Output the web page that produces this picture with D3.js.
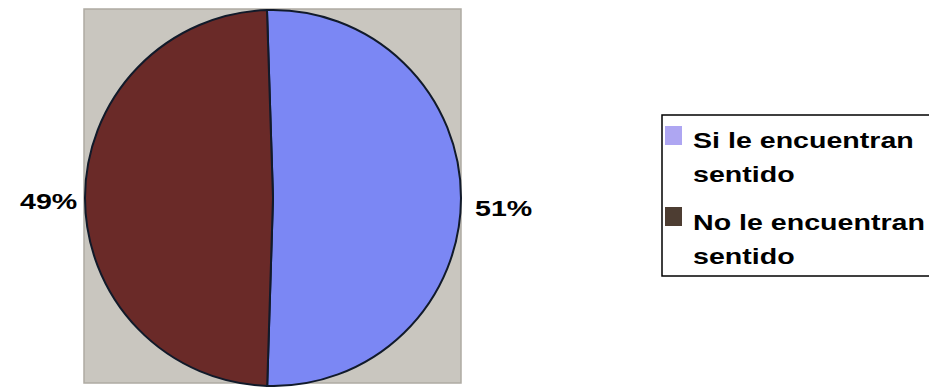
<!DOCTYPE html>
<html>
<head>
<meta charset="utf-8">
<script src="https://cdn.jsdelivr.net/npm/d3@7"></script>
<style>
  body { margin: 0; background: #ffffff; }
  svg { display: block; }
  text { font-family: "Liberation Sans", Arial, sans-serif; font-weight: bold; fill: #000; }
</style>
</head>
<body>
<script>
let x = 929;
let y = 387;
let svg = d3.select("body").append("svg").attr("width", x).attr("height", y);

// data
let categories = ["Si le encuentran sentido", "No le encuentran sentido"];
let values = [51, 49];
let sliceColors = ["#7b87f4", "#6a2a28"];
let swatchColors = ["#aea6f2", "#4d3d32"];
let legendLines = [["Si le encuentran", "sentido"], ["No le encuentran", "sentido"]];

let cx = 273;
let cy = 198;
let r = 188;

// gray plot area
svg.append("rect")
  .attr("x", 84)
  .attr("y", 9)
  .attr("width", 377)
  .attr("height", 374)
  .attr("fill", "#c9c6bf")
  .attr("stroke", "#aeaba3")
  .attr("stroke-width", 1.5);

let pie = d3.pie().sort(null).value(d => d)
  .startAngle(-0.032)
  .endAngle(2 * Math.PI - 0.032);
let arc = d3.arc().innerRadius(0).outerRadius(r);
let arcs = pie(values);

let g = svg.append("g").attr("transform", "translate(" + cx + "," + cy + ")");
g.selectAll("path").data(arcs).enter().append("path")
  .attr("d", arc)
  .attr("fill", (d, i) => sliceColors[i])
  .attr("stroke", "#111a2a")
  .attr("stroke-width", 2);

// percentage labels
let labelPos = [[475, 216], [20, 209]];
arcs.forEach((d, i) =>
{
  svg.append("text")
    .attr("transform", "translate(" + labelPos[i][0] + "," + labelPos[i][1] + ") scale(1.3,1)")
    .attr("font-size", 22)
    .text(Math.round(d.data) + "%");
});

// legend
let legend = svg.append("g").attr("id", "legend");
legend.append("rect")
  .attr("x", 662)
  .attr("y", 115)
  .attr("width", 300)
  .attr("height", 161)
  .attr("fill", "none")
  .attr("stroke", "#000")
  .attr("stroke-width", 1.5);

let itemTop = [148, 230];
let swatchY = [126, 207];
categories.forEach((c, i) =>
{
  legend.append("rect")
    .attr("x", 665)
    .attr("y", swatchY[i])
    .attr("width", 17)
    .attr("height", 19)
    .attr("fill", swatchColors[i]);
  legendLines[i].forEach((t, j) =>
  {
    legend.append("text")
      .attr("transform", "translate(693," + (itemTop[i] + j * 34) + ") scale(1.3,1)")
      .attr("font-size", 22)
      .text(t);
  });
});
</script>
</body>
</html>
